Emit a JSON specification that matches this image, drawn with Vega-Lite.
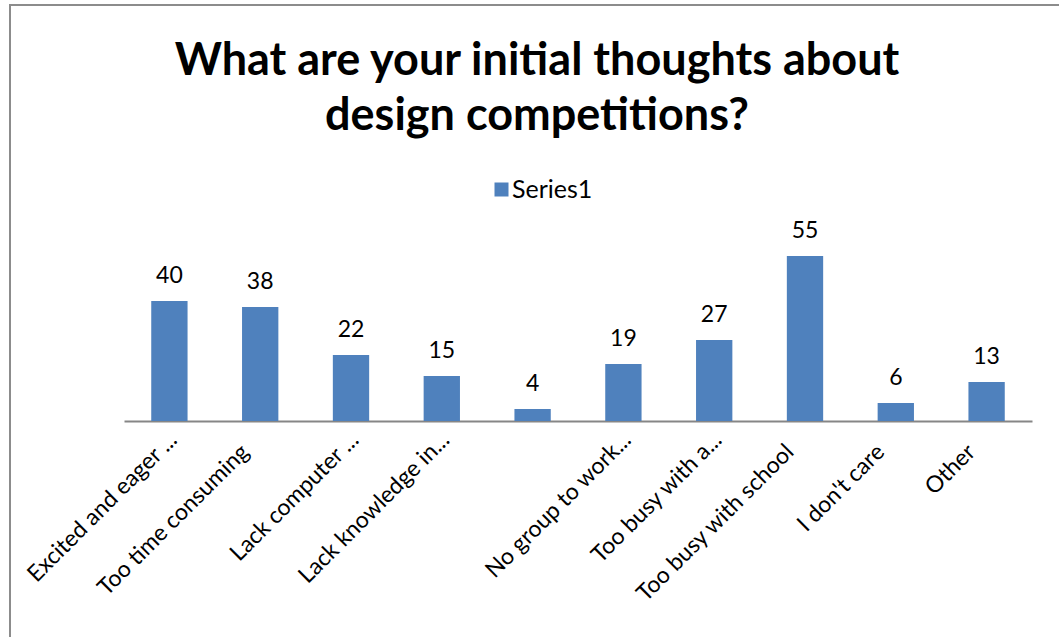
{
  "$schema": "https://vega.github.io/schema/vega-lite/v6.json",
  "autosize": "none",
  "width": 1060,
  "height": 640,
  "padding": {"left": 10, "top": 5, "right": 0, "bottom": 0},
  "background": "white",
  "config": {
    "font": "Lato",
    "view": {"stroke": "#8c8c8c", "strokeWidth": 2}
  },
  "title": {
    "text": ["What are your initial thoughts about", "design competitions?"],
    "font": "Lato",
    "fontSize": 45,
    "fontWeight": "bold",
    "color": "#000000",
    "lineHeight": 55,
    "anchor": "middle",
    "frame": "group",
    "baseline": "top",
    "offset": 0,
    "dx": -3,
    "dy": 134
  },
  "data": {
    "values": [
      {"category": "Excited and eager ...", "series": "Series1", "value": 40},
      {"category": "Too time consuming", "series": "Series1", "value": 38},
      {"category": "Lack computer ...", "series": "Series1", "value": 22},
      {"category": "Lack knowledge in...", "series": "Series1", "value": 15},
      {"category": " ", "series": "Series1", "value": 4},
      {"category": "No group to work...", "series": "Series1", "value": 19},
      {"category": "Too busy with a...", "series": "Series1", "value": 27},
      {"category": "Too busy with school", "series": "Series1", "value": 55},
      {"category": "I don't care", "series": "Series1", "value": 6},
      {"category": "Other", "series": "Series1", "value": 13}
    ]
  },
  "layer": [
    {
      "mark": {"type": "bar"},
      "encoding": {
        "x": {
          "field": "category",
          "type": "nominal",
          "sort": null,
          "scale": {"range": [114, 1022], "paddingInner": 0.6, "paddingOuter": 0.3},
          "axis": {
            "title": null,
            "offset": -224,
            "domainColor": "#868686",
            "domainWidth": 2,
            "ticks": false,
            "tickSize": 0,
            "labelAngle": -45,
            "labelAlign": "right",
            "labelBaseline": "alphabetic",
            "labelPadding": {"condition": {"test": "indexof(datum.label, '...') >= 0", "value": 20}, "value": 32},
            "labelOffset": {"condition": {"test": "indexof(datum.label, '...') >= 0", "value": 9}, "value": -10},
            "labelFont": "Lato",
            "labelFontSize": 23,
            "labelColor": "#000000",
            "labelLimit": 400,
            "grid": false
          }
        },
        "y": {
          "field": "value",
          "type": "quantitative",
          "scale": {"domain": [0, 60], "range": [416, 236]},
          "axis": null
        },
        "color": {
          "field": "series",
          "type": "nominal",
          "scale": {"range": ["#4F81BD"]},
          "legend": {
            "title": null,
            "orient": "none",
            "legendX": 479,
            "legendY": 172,
            "symbolType": "square",
            "symbolSize": 196,
            "symbolStrokeWidth": 0,
            "labelFont": "Lato",
            "labelFontSize": 25,
            "labelOffset": -2,
            "labelColor": "#000000",
            "padding": 0
          }
        }
      }
    },
    {
      "mark": {"type": "text", "baseline": "alphabetic", "dy": -18, "font": "Lato", "fontSize": 23, "color": "#000000"},
      "encoding": {
        "x": {"field": "category", "type": "nominal", "sort": null},
        "y": {"field": "value", "type": "quantitative"},
        "text": {"field": "value", "type": "quantitative"}
      }
    }
  ]
}
